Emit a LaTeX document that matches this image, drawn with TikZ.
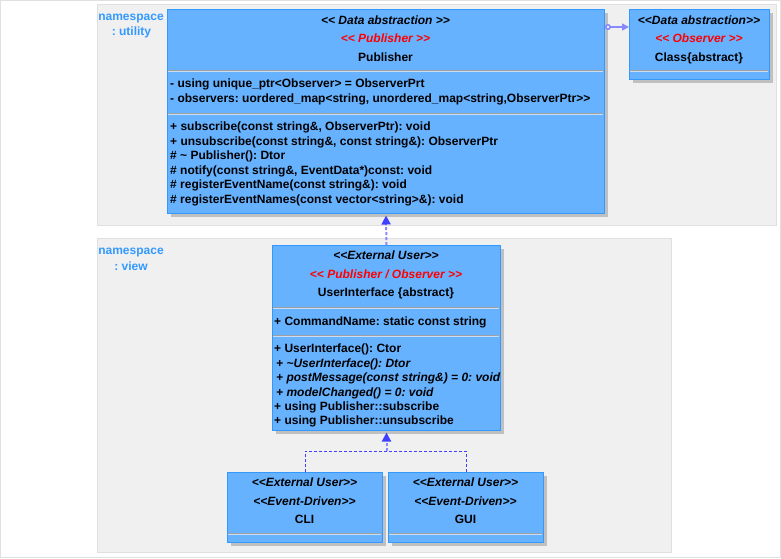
\documentclass[tikz,border=0pt]{standalone}
\usepackage{fontspec}
\setmainfont{Liberation Sans}
\usetikzlibrary{arrows.meta,shadows}

\definecolor{boxfill}{RGB}{102,178,255}
\definecolor{boxline}{RGB}{51,153,255}
\definecolor{nsfill}{RGB}{240,240,240}
\definecolor{nsline}{RGB}{224,224,224}
\definecolor{nstext}{RGB}{51,153,255}
\definecolor{divgray}{RGB}{160,160,160}
\definecolor{divlight}{RGB}{200,222,245}
\definecolor{shadowgray}{RGB}{192,192,192}
\definecolor{linklav}{RGB}{136,136,255}
\definecolor{linkblue}{RGB}{64,64,255}

\newcommand\umlfont{\fontsize{12}{14}\selectfont\bfseries\frenchspacing}
% double angle brackets, kept as two separate characters
\newcommand\stl{<\kern0pt<}
\newcommand\stg{>\kern0pt>}
% compartment separator inside a class box: x from, x to, y
\newcommand\compline[3]{%
  \draw[divgray, line width=1pt] (#1+1,#3) -- (#2-1,#3);
  \draw[divlight, line width=1pt] (#1+1,#3+1) -- (#2-1,#3+1);}

\tikzset{
  umlbox/.style={draw=boxline, fill=boxfill, line width=1pt, anchor=north west,
    inner sep=0pt, drop shadow={shadow xshift=3.5pt, shadow yshift=-3.5pt,
    fill=shadowgray, opacity=1}},
  nsregion/.style={draw=nsline, fill=nsfill, line width=1pt},
  nslabel/.style={font=\umlfont, text=nstext, inner sep=0pt, anchor=base},
  member/.style={font=\umlfont, inner sep=0pt, anchor=base west},
  imember/.style={member, font=\umlfont\itshape},
  title/.style={font=\umlfont, inner sep=0pt, anchor=base},
  stereo/.style={title, font=\umlfont\itshape},
  redstereo/.style={stereo, text=red},
  realize/.style={linklav, line width=2pt, dash pattern=on 3pt off 2pt,
    -{Triangle[width=9pt,length=9pt,color=linkblue,fill=linkblue]}},
  branch/.style={linkblue, line width=1pt, dash pattern=on 3pt off 2pt},
}

\begin{document}
\begin{tikzpicture}[x=1pt,y=-1pt]
\useasboundingbox (0,0) rectangle (781,558);
\draw[nsline, line width=1pt] (0.5,0.5) rectangle (780.5,557.5);

% namespaces
\draw[nsregion] (97.5,4.5) rectangle (776.5,225.5);
\draw[nsregion] (97.5,238.5) rectangle (671.5,552.5);
\node[nslabel] (nsutil1) at (131,20.5) {namespace};
\node[nslabel] (nsutil2) at (131.5,35) {: utility};
\node[nslabel] (nsview1) at (131,254.5) {namespace};
\node[nslabel] (nsview2) at (131,270.5) {: view};

% class boxes
\node[umlbox, minimum width=437pt, minimum height=204pt] (pub) at (167,9) {};
\node[umlbox, minimum width=140pt, minimum height=70pt] (obs) at (629,9) {};
\node[umlbox, minimum width=228pt, minimum height=185pt] (ui) at (272,245) {};
\node[umlbox, minimum width=155pt, minimum height=70pt] (cli) at (227,472) {};
\node[umlbox, minimum width=155pt, minimum height=70pt] (gui) at (388,472) {};

\compline{167}{604}{70}
\compline{167}{604}{113}
\compline{629}{769}{70}
\compline{272}{500}{307}
\compline{272}{500}{335}
\compline{227}{382}{533}
\compline{388}{543}{533}

% Publisher
\node[stereo] (pubs1) at (385.5,24) {\stl{} Data abstraction \stg};
\node[redstereo] (pubs2) at (385.5,42) {\stl{} Publisher \stg};
\node[title] (pubname) at (385.5,61) {Publisher};
\node[member] (puba1) at (170,87.5) {- using unique\_ptr<Observer> = ObserverPrt};
\node[member] (puba2) at (170,102) {- observers: uordered\_map<string, unordered\_map<string,ObserverPtr\stg};
\node[member] (pubm1) at (170,130.5) {+ subscribe(const string\&, ObserverPtr): void};
\node[member] (pubm2) at (170,145) {+ unsubscribe(const string\&, const string\&): ObserverPtr};
\node[member] (pubm3) at (170,159.5) {\# \textasciitilde{} Publisher(): Dtor};
\node[member] (pubm4) at (170,174) {\# notify(const string\&, EventData*)const: void};
\node[member] (pubm5) at (170,188.5) {\# registerEventName(const string\&): void};
\node[member] (pubm6) at (170,203) {\# registerEventNames(const vector<string>\&): void};

% Observer
\node[stereo] (obss1) at (699,24) {\stl{}Data abstraction\stg};
\node[redstereo] (obss2) at (699,42) {\stl{} Observer \stg};
\node[title] (obsname) at (699,61) {Class\{abstract\}};

% UserInterface
\node[stereo] (uis1) at (386,259.5) {\stl{}External User\stg};
\node[redstereo] (uis2) at (386,278) {\stl{} Publisher / Observer \stg};
\node[title] (uiname) at (386,296.5) {UserInterface \{abstract\}};
\node[member] (uia1) at (274,325) {+ CommandName: static const string};
\node[member] (uim1) at (274,352.7) {+ UserInterface(): Ctor};
\node[imember] (uim2) at (276,367) {+ \textasciitilde{}UserInterface(): Dtor};
\node[imember] (uim3) at (276,381.5) {+ postMessage(const string\&) = 0: void};
\node[imember] (uim4) at (276,396) {+ modelChanged() = 0: void};
\node[member] (uim5) at (274,410.3) {+ using Publisher::subscribe};
\node[member] (uim6) at (274,424.7) {+ using Publisher::unsubscribe};

% CLI and GUI
\node[stereo] (clis1) at (304.5,486.5) {\stl{}External User\stg};
\node[stereo] (clis2) at (304.5,505) {\stl{}Event-Driven\stg};
\node[title] (cliname) at (304.5,523.5) {CLI};
\node[stereo] (guis1) at (465.5,486.5) {\stl{}External User\stg};
\node[stereo] (guis2) at (465.5,505) {\stl{}Event-Driven\stg};
\node[title] (guiname) at (465.5,523.5) {GUI};

% Publisher aggregates Observers
\coordinate (aggfrom) at ([yshift=-18pt]pub.north east);
\coordinate (aggto) at (obs.west |- aggfrom);
\draw[linklav, line width=1.5pt,
  {Circle[length=6pt,fill=nsfill]}-{Triangle[length=7pt,width=7pt]}] (aggfrom) -- (aggto);

% UserInterface realizes Publisher
\draw[realize] (ui.north) -- ([yshift=-1.5pt]pub.south);

% CLI and GUI realize UserInterface
\coordinate (fork) at ([yshift=21pt]ui.south |- cli.north);
\draw[branch] (cli.north) -- ++(0,-21) -| (gui.north);
\draw[realize] (fork) -- ([yshift=-1.5pt]ui.south);
\end{tikzpicture}
\end{document}
